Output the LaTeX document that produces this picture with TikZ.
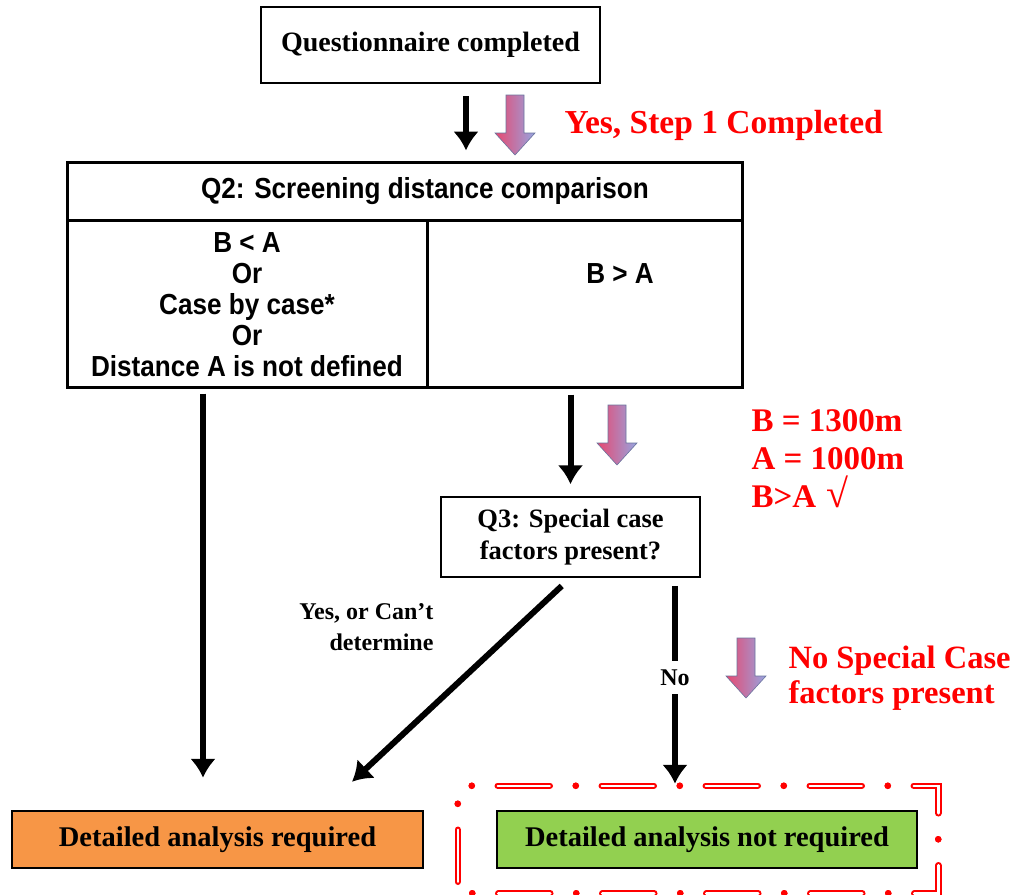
\documentclass[tikz,border=0pt]{standalone}
\usepackage{fontspec}
\setmainfont{Liberation Serif}
\newfontfamily\tabfont[FakeStretch=0.9]{Liberation Sans}
\usetikzlibrary{arrows.meta}

\definecolor{boxorange}{RGB}{247,150,70}
\definecolor{boxgreen}{RGB}{146,208,80}
\definecolor{hintred}{RGB}{255,0,0}
\definecolor{arrpink}{RGB}{232,72,112}
\definecolor{arrblue}{RGB}{150,165,225}

\tikzset{
  box/.style={draw, line width=2.5pt, inner sep=0pt, font=\bfseries\fontsize{28}{32}\selectfont},
  cell/.style={draw, line width=3pt, inner sep=0pt},
  tabtext/.style={font=\tabfont\bfseries\fontsize{29}{31}\selectfont, align=center},
  flow/.style={line width=6pt, -{Latex[length=19pt,width=26pt]}},
  hint/.style={text=hintred, anchor=west, align=left},
  lbl/.style={font=\bfseries\fontsize{24}{31}\selectfont},
  frame/.style={draw=hintred, line width=2pt, double=white, double distance=2.5pt,
    dash pattern=on 52pt off 26pt on 0pt off 26pt, dash phase=60pt, line cap=round},
  framedots/.style={draw=hintred, line width=6.5pt,
    dash pattern=on 0pt off 104pt, dash phase=86pt, line cap=round},
  gradarrow/.pic={
    \shade[left color=arrpink, right color=arrblue, draw=arrblue!70!black, line width=0.6pt]
      (-9,-30) -- (9,-30) -- (9,8) -- (20,8) -- (0,30) -- (-20,8) -- (-9,8) -- cycle;
  }
}

\begin{document}
\begin{tikzpicture}[x=1pt,y=-1pt]
\useasboundingbox (0,0) rectangle (1019,894);

% top box
\node[box, minimum width=339pt, minimum height=76pt] (start) at (430.5,45) {Questionnaire completed};

% Q2 table
\node[cell, minimum width=675pt, minimum height=58pt] (q2) at (404.5,191) {};
\node[cell, minimum width=360pt, minimum height=167pt] (cellL) at (247,303.5) {};
\node[cell, minimum width=315pt, minimum height=167pt] (cellR) at (584.5,303.5) {};
\node[tabtext] (q2txt) at (425,191) {Q2: Screening distance comparison};
\node[tabtext] (ltxt) at (247,305) {B < A\\Or\\Case by case*\\Or\\Distance A is not defined};
\node[tabtext] (rtxt) at (620,274) {B > A};

% Q3
\node[box, line width=1.5pt, minimum width=259pt, minimum height=80pt, align=center,
  font=\bfseries\fontsize{26.5}{32}\selectfont] (q3) at (570.5,537) {Q3: Special case\\factors present?};

% outcomes
\node[box, fill=boxorange, minimum width=411pt, minimum height=57pt,
  font=\bfseries\fontsize{28.5}{32}\selectfont] (req) at (217.5,839.5) {Detailed analysis required};
\node[box, fill=boxgreen, minimum width=420pt, minimum height=57pt,
  font=\bfseries\fontsize{28.5}{32}\selectfont] (noreq) at (707,839.5) {Detailed analysis not required};
\draw[frame] ([shift={(-38pt,24pt)}]noreq.north west) rectangle ([shift={(20pt,-24pt)}]noreq.south east);
\draw[framedots] ([shift={(-38pt,24pt)}]noreq.north west) rectangle ([shift={(20pt,-24pt)}]noreq.south east);

% connectors
\coordinate (s1) at ([xshift=35.5pt]start.south);
\draw[flow, shorten <=12pt, shorten >=10pt] (s1) -- (s1 |- q2.north);
\coordinate (s2) at ([xshift=-44pt]cellL.south);
\draw[flow, shorten <=5pt, shorten >=32pt] (s2) -- (s2 |- req.north);
\draw[flow, shorten <=6pt, shorten >=12pt] (cellR.south -| q3.north) -- (q3.north);
\draw[flow, shorten <=12pt, shorten >=41pt] (q3.south) -- ([xshift=104.5pt]req.north);
\coordinate (s4) at ([xshift=104.5pt]q3.south);
\draw[flow, shorten <=8pt, shorten >=26pt] (s4) -- node[lbl, fill=white, inner ysep=9pt, pos=0.43] (no) {No} (s4 |- noreq.north);
\node[lbl, align=right, anchor=east] (yes) at (437,627) {Yes, or Can’t\\determine};

% hints
\pic at (515,125) {gradarrow};
\pic at (617,435) {gradarrow};
\pic at (746,668) {gradarrow};
\node[hint, font=\bfseries\fontsize{33.5}{38}\selectfont] (h1) at (561,125) {Yes, Step 1 Completed};
\node[hint, font=\bfseries\fontsize{33}{38}\selectfont] (h2) at (748,459) {B = 1300m\\A = 1000m\\B>A\hspace{10pt}{\fontsize{40}{38}\selectfont √}};
\node[hint, font=\bfseries\fontsize{32.5}{35}\selectfont] (h3) at (785,678) {No Special Case\\factors present};
\end{tikzpicture}
\end{document}
